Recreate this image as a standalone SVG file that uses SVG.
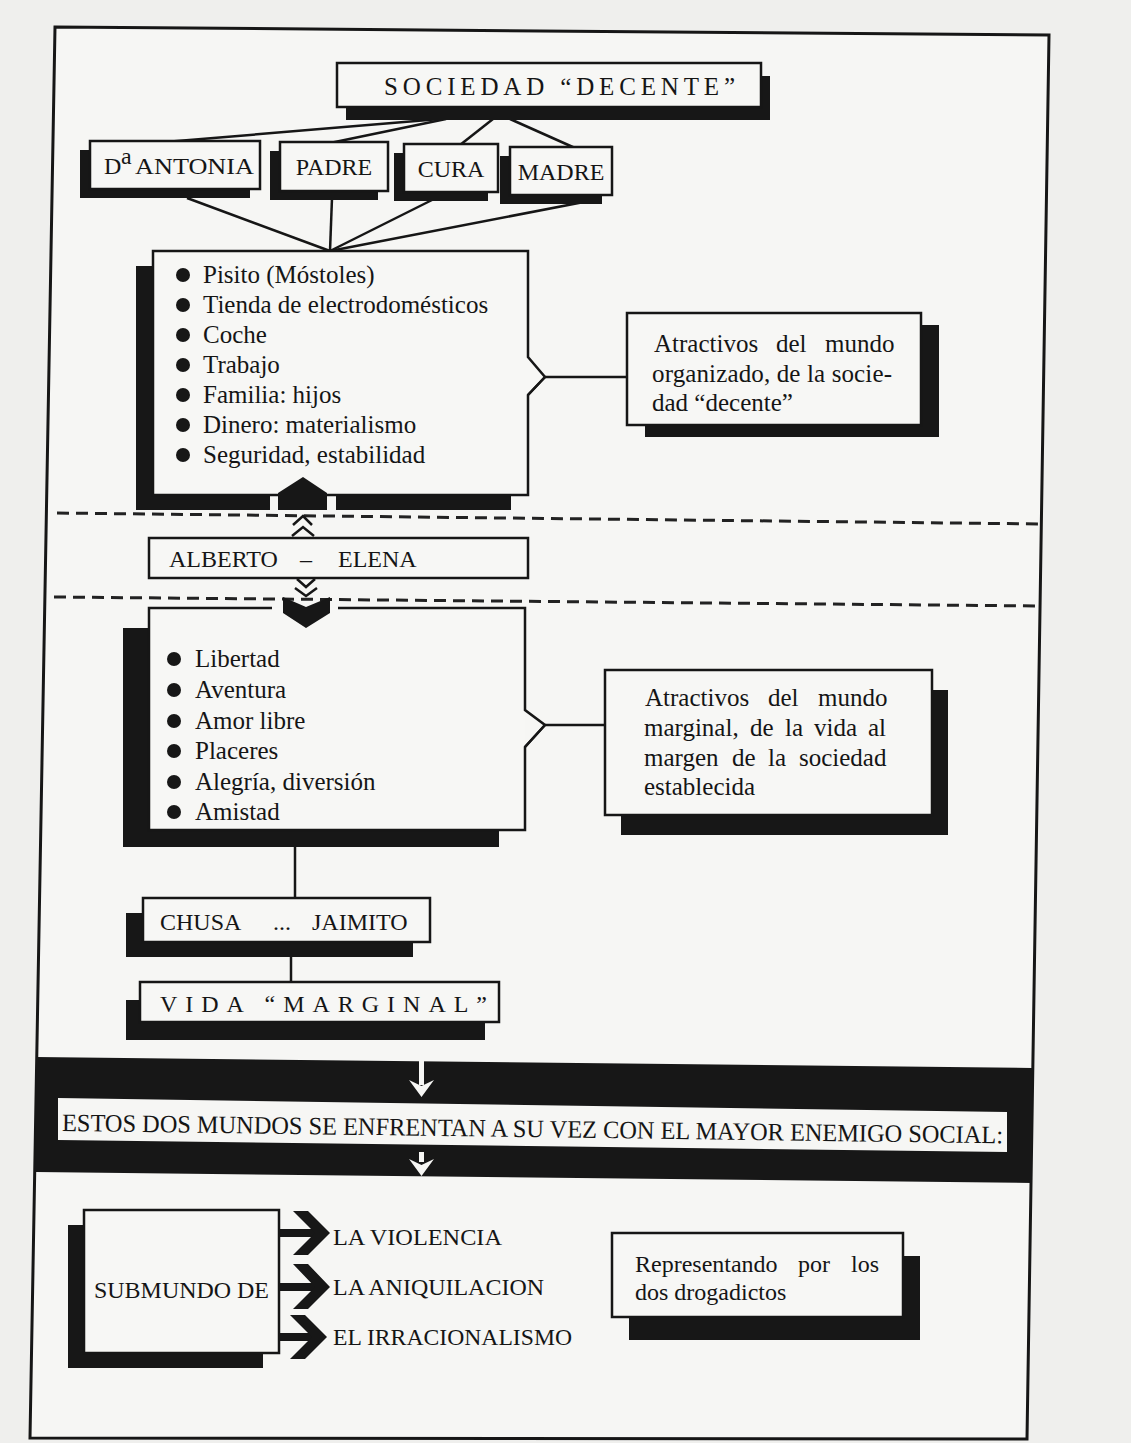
<svg xmlns="http://www.w3.org/2000/svg" width="1131" height="1443" viewBox="0 0 1131 1443">
<defs>
<style>
.box{fill:#f7f7f5;stroke:#161616;stroke-width:2.5}
.fillonly{fill:#f7f7f5;stroke:none}
.edge{fill:none;stroke:#161616;stroke-width:2.5}
.sh{fill:#171717}
.t{font-family:"Liberation Serif","DejaVu Serif",serif;fill:#151515;font-size:25px}
.ts{font-family:"Liberation Serif","DejaVu Serif",serif;fill:#151515;font-size:24px}
.ln{stroke:#161616;stroke-width:2.5;fill:none}
.dash{stroke:#222;stroke-width:3;stroke-dasharray:12 7;fill:none}
.blk{fill:#171717}
.wht{fill:#f6f6f4}
</style>
</defs>
<rect x="0" y="0" width="1131" height="1443" fill="#efefed"/>
<polygon id="frame" points="55,27 1049,35 1027,1439 30,1438" fill="#f6f6f4" stroke="#161616" stroke-width="3"/>

<g id="connectors">
  <line class="ln" x1="440" y1="119" x2="165" y2="142"/>
  <line class="ln" x1="446" y1="119" x2="330" y2="143"/>
  <line class="ln" x1="493" y1="119" x2="460" y2="145"/>
  <line class="ln" x1="510" y1="119" x2="575" y2="148"/>
  <line class="ln" x1="187" y1="198" x2="330" y2="251"/>
  <line class="ln" x1="332" y1="198" x2="330" y2="251"/>
  <line class="ln" x1="436" y1="198" x2="330" y2="251"/>
  <line class="ln" x1="589" y1="201" x2="330" y2="251"/>
  <line class="ln" x1="545" y1="377" x2="627" y2="377" stroke-width="3"/>
  <line class="ln" x1="545" y1="725" x2="605" y2="725" stroke-width="3"/>
  <line class="ln" x1="295" y1="847" x2="295" y2="898"/>
  <line class="ln" x1="291" y1="957" x2="291" y2="982"/>
  <line class="dash" x1="57" y1="513" x2="1042" y2="524"/>
  <line class="dash" x1="54" y1="597" x2="1041" y2="606"/>
  <polyline class="ln" points="293,525 303,516 312,525" stroke-width="4.5"/>
  <polyline class="ln" points="292,536 303,527 314,536" stroke-width="4.5"/>
  <polyline class="ln" points="297,579 306,587 315,579" stroke-width="4.5"/>
  <polyline class="ln" points="295,588 306,596 317,588" stroke-width="4.5"/>
</g>

<g id="sociedad">
  <rect class="sh" x="346" y="76" width="424" height="44"/>
  <rect class="box" x="337" y="63" width="424" height="44"/>
  <text class="t" x="384" y="95" font-size="23" textLength="351" lengthAdjust="spacing">SOCIEDAD “DECENTE”</text>
</g>

<g id="antonia">
  <rect class="sh" x="80" y="150" width="170" height="48"/>
  <rect class="box" x="90" y="141" width="170" height="48"/>
  <text class="ts" x="104" y="174">D</text>
  <text class="ts" x="121" y="164" font-size="14">a</text>
  <text class="ts" x="135" y="174" textLength="119" lengthAdjust="spacingAndGlyphs">ANTONIA</text>
</g>

<g id="padre">
  <rect class="sh" x="270" y="151" width="108" height="49"/>
  <rect class="box" x="280" y="142" width="108" height="49"/>
  <text class="ts" x="334" y="175" text-anchor="middle">PADRE</text>
</g>

<g id="cura">
  <rect class="sh" x="394" y="153" width="94" height="48"/>
  <rect class="box" x="404" y="144" width="94" height="48"/>
  <text class="ts" x="451" y="177" text-anchor="middle">CURA</text>
</g>

<g id="madre">
  <rect class="sh" x="500" y="156" width="102" height="48"/>
  <rect class="box" x="510" y="147" width="102" height="48"/>
  <text class="ts" x="561" y="180" text-anchor="middle">MADRE</text>
</g>

<g id="lista-decente">
  <rect class="sh" x="136" y="266" width="17" height="244"/>
  <rect class="sh" x="136" y="495" width="134" height="15"/>
  <rect class="sh" x="336" y="495" width="175" height="15"/>
  <path class="box" d="M153,251 H528 V357 L545,377 L528,395 V495 H153 Z"/>
  <line class="ln" x1="545" y1="377" x2="528" y2="395" stroke-width="5"/>
  <polygon class="blk" points="278,493 303,477 327,493 327,510 278,510"/>
  <g class="blk">
    <circle cx="183" cy="275" r="7"/>
    <circle cx="183" cy="305" r="7"/>
    <circle cx="183" cy="335" r="7"/>
    <circle cx="183" cy="365" r="7"/>
    <circle cx="183" cy="395" r="7"/>
    <circle cx="183" cy="425" r="7"/>
    <circle cx="183" cy="455" r="7"/>
  </g>
  <text class="t" x="203" y="283">Pisito (Móstoles)</text>
  <text class="t" x="203" y="313">Tienda de electrodomésticos</text>
  <text class="t" x="203" y="343">Coche</text>
  <text class="t" x="203" y="373">Trabajo</text>
  <text class="t" x="203" y="403">Familia: hijos</text>
  <text class="t" x="203" y="433">Dinero: materialismo</text>
  <text class="t" x="203" y="463">Seguridad, estabilidad</text>
</g>

<g id="atractivos-decente">
  <rect class="sh" x="645" y="325" width="294" height="112"/>
  <rect class="box" x="627" y="313" width="294" height="112"/>
  <text class="t" y="352"><tspan x="654">Atractivos</tspan><tspan x="776">del</tspan><tspan x="825">mundo</tspan></text>
  <text class="t" x="652" y="382" textLength="240" lengthAdjust="spacing">organizado, de la socie-</text>
  <text class="t" x="652" y="411">dad “decente”</text>
</g>

<g id="alberto-elena">
  <rect class="box" x="149" y="538" width="379" height="40" stroke-width="3.5"/>
  <text class="ts" x="169" y="567">ALBERTO</text>
  <text class="ts" x="300" y="567">–</text>
  <text class="ts" x="338" y="567">ELENA</text>
</g>

<g id="lista-marginal">
  <rect class="sh" x="123" y="628" width="376" height="219"/>
  <rect class="fillonly" x="149" y="608" width="376" height="222"/>
  <path class="edge" d="M272,608 H149 V830 H525 V747 L545,725 L525,710 V608 H338"/>
  <line class="ln" x1="545" y1="725" x2="525" y2="747" stroke-width="5"/>
  <polygon class="blk" points="283,597 306,607 330,597 330,613 306,628 283,613"/>
  <g class="blk">
    <circle cx="174" cy="659" r="7"/>
    <circle cx="174" cy="690" r="7"/>
    <circle cx="174" cy="721" r="7"/>
    <circle cx="174" cy="751" r="7"/>
    <circle cx="174" cy="782" r="7"/>
    <circle cx="174" cy="812" r="7"/>
  </g>
  <text class="t" x="195" y="667">Libertad</text>
  <text class="t" x="195" y="698">Aventura</text>
  <text class="t" x="195" y="729">Amor libre</text>
  <text class="t" x="195" y="759">Placeres</text>
  <text class="t" x="195" y="790">Alegría, diversión</text>
  <text class="t" x="195" y="820">Amistad</text>
</g>

<g id="atractivos-marginal">
  <rect class="sh" x="621" y="690" width="327" height="145"/>
  <rect class="box" x="605" y="670" width="327" height="145"/>
  <text class="t" y="706"><tspan x="645">Atractivos</tspan><tspan x="768">del</tspan><tspan x="818">mundo</tspan></text>
  <text class="t" y="736"><tspan x="644">marginal,</tspan><tspan x="750">de</tspan><tspan x="785">la</tspan><tspan x="814">vida</tspan><tspan x="868">al</tspan></text>
  <text class="t" y="766"><tspan x="644">margen</tspan><tspan x="732">de</tspan><tspan x="768">la</tspan><tspan x="799">sociedad</tspan></text>
  <text class="t" x="644" y="795">establecida</text>
</g>

<g id="chusa-jaimito">
  <rect class="sh" x="126" y="913" width="287" height="44"/>
  <rect class="box" x="143" y="898" width="287" height="44"/>
  <text class="ts" x="160" y="930">CHUSA</text>
  <text class="ts" x="273" y="930">...</text>
  <text class="ts" x="312" y="930">JAIMITO</text>
</g>

<g id="vida-marginal">
  <rect class="sh" x="126" y="1000" width="359" height="40"/>
  <rect class="box" x="140" y="982" width="359" height="40"/>
  <text class="ts" x="160" y="1012" font-size="24" textLength="327" lengthAdjust="spacing">VIDA  “MARGINAL”</text>
</g>

<g id="enemigo-social">
  <polygon class="blk" points="36,1057 1032,1068 1032,1183 36,1172"/>
  <polygon class="wht" points="58,1098 1007,1112 1007,1152 58,1140"/>
  <text class="t" x="62" y="1131" transform="rotate(0.75 62 1131)" textLength="941" lengthAdjust="spacingAndGlyphs">ESTOS DOS MUNDOS SE ENFRENTAN A SU VEZ CON EL MAYOR ENEMIGO SOCIAL:</text>
  <rect class="wht" x="419" y="1061" width="5" height="24"/>
  <polygon class="wht" points="409,1080 421.5,1086 434,1080 421.5,1097"/>
  <rect class="wht" x="419" y="1152" width="5" height="10"/>
  <polygon class="wht" points="409,1159 421.5,1165 434,1159 421.5,1176"/>
</g>

<g id="submundo">
  <rect class="sh" x="68" y="1225" width="195" height="143"/>
  <rect class="box" x="84" y="1210" width="195" height="143"/>
  <text class="ts" x="94" y="1298" font-size="23.5" textLength="175" lengthAdjust="spacingAndGlyphs">SUBMUNDO DE</text>
</g>

<g id="flechas-submundo">
  <rect class="blk" x="279" y="1229" width="37" height="8"/>
  <polygon class="blk" points="293,1211 308,1211 330,1233 308,1255 293,1255 315,1233"/>
  <rect class="blk" x="279" y="1283" width="37" height="8"/>
  <polygon class="blk" points="293,1264 308,1264 330,1287 308,1309 293,1309 315,1287"/>
  <rect class="blk" x="279" y="1333" width="34" height="8"/>
  <polygon class="blk" points="290,1315 305,1315 327,1337 305,1359 290,1359 312,1337"/>
</g>

<g id="violencia"><text class="ts" x="333" y="1245" textLength="169" lengthAdjust="spacingAndGlyphs">LA VIOLENCIA</text></g>
<g id="aniquilacion"><text class="ts" x="333" y="1295" textLength="211" lengthAdjust="spacingAndGlyphs">LA ANIQUILACION</text></g>
<g id="irracionalismo"><text class="ts" x="333" y="1345" textLength="239" lengthAdjust="spacingAndGlyphs">EL IRRACIONALISMO</text></g>

<g id="representando">
  <rect class="sh" x="629" y="1256" width="291" height="84"/>
  <rect class="box" x="612" y="1233" width="291" height="84"/>
  <text class="ts" y="1272"><tspan x="635">Representando</tspan><tspan x="798">por</tspan><tspan x="851">los</tspan></text>
  <text class="ts" x="635" y="1300">dos drogadictos</text>
</g>
</svg>
